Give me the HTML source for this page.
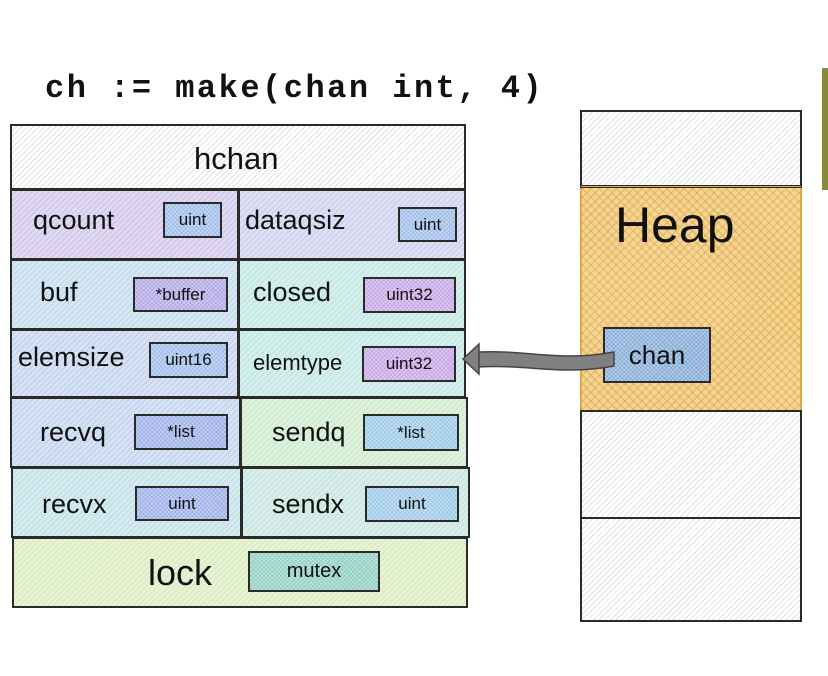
<!DOCTYPE html>
<html><head><meta charset="utf-8"><style>
body{margin:0;width:828px;height:676px;background:#fff;position:relative;overflow:hidden;font-family:"Liberation Sans",sans-serif}
.b{position:absolute;border:2px solid #2a2a2a;box-sizing:border-box}
.h{background-image:repeating-linear-gradient(135deg,rgba(255,255,255,.35) 0 2px,rgba(255,255,255,0) 2px 4px)}
.t{position:absolute;font-size:27px;color:#111;line-height:1}
.k{position:absolute;border:2px solid #2a2a2a;box-sizing:border-box;font-size:17px;text-align:center;color:#111;display:flex;align-items:center;justify-content:center;background-image:repeating-linear-gradient(45deg,rgba(255,255,255,.3) 0 1px,rgba(255,255,255,0) 1px 3px),repeating-linear-gradient(135deg,rgba(255,255,255,.3) 0 1px,rgba(255,255,255,0) 1px 3px)}
.g{background-color:#f2f2f2;background-image:repeating-linear-gradient(135deg,#fff 0 3px,#e0e0e0 3px 4px)}
</style></head><body>
<div style="position:absolute;left:45px;top:70px;font:bold 32px 'Liberation Mono',monospace;letter-spacing:2.5px;color:#111">ch := make(chan int, 4)</div>
<div style="position:absolute;left:822px;top:68px;width:6px;height:122px;background:#8a8a3a"></div>

<div class="b g" style="left:10px;top:124px;width:456px;height:66px"></div>
<div class="t" style="left:194px;top:143px;font-size:31px">hchan</div>

<div class="b h" style="left:10px;top:189px;width:229px;height:71px;background-color:#d3caec"></div>
<div class="b h" style="left:238px;top:189px;width:228px;height:71px;background-color:#d0d3ee"></div>
<div class="t" style="left:33px;top:207px">qcount</div><div class="k" style="left:163px;top:202px;width:59px;height:36px;background-color:#9dbce8">uint</div>
<div class="t" style="left:245px;top:207px">dataqsiz</div><div class="k" style="left:398px;top:207px;width:59px;height:35px;background-color:#9dbce8">uint</div>

<div class="b h" style="left:10px;top:259px;width:229px;height:71px;background-color:#c6ddee"></div>
<div class="b h" style="left:238px;top:259px;width:228px;height:71px;background-color:#c4e8e3"></div>
<div class="t" style="left:40px;top:279px">buf</div><div class="k" style="left:133px;top:277px;width:95px;height:35px;background-color:#b2a6e6">*buffer</div>
<div class="t" style="left:253px;top:279px">closed</div><div class="k" style="left:363px;top:277px;width:93px;height:36px;background-color:#c7a6e4">uint32</div>

<div class="b h" style="left:10px;top:329px;width:229px;height:69px;background-color:#c6d6f0"></div>
<div class="b h" style="left:238px;top:329px;width:228px;height:69px;background-color:#c4e8e3"></div>
<div class="t" style="left:18px;top:344px">elemsize</div><div class="k" style="left:149px;top:342px;width:79px;height:36px;background-color:#9dbce8">uint16</div>
<div class="t" style="left:253px;top:352px;font-size:22px">elemtype</div><div class="k" style="left:362px;top:346px;width:94px;height:36px;background-color:#c7a6e4">uint32</div>

<div class="b h" style="left:10px;top:397px;width:231px;height:71px;background-color:#c6d6f0"></div>
<div class="b h" style="left:240px;top:397px;width:228px;height:71px;background-color:#d0ebcf"></div>
<div class="t" style="left:40px;top:419px">recvq</div><div class="k" style="left:134px;top:414px;width:94px;height:36px;background-color:#9dafe8">*list</div>
<div class="t" style="left:272px;top:419px">sendq</div><div class="k" style="left:363px;top:414px;width:96px;height:37px;background-color:#9cc9e6">*list</div>

<div class="b h" style="left:11px;top:467px;width:231px;height:71px;background-color:#c4e2e8"></div>
<div class="b h" style="left:241px;top:467px;width:229px;height:71px;background-color:#c9e6e1"></div>
<div class="t" style="left:42px;top:491px">recvx</div><div class="k" style="left:135px;top:486px;width:94px;height:35px;background-color:#9dafe8">uint</div>
<div class="t" style="left:272px;top:491px">sendx</div><div class="k" style="left:365px;top:486px;width:94px;height:36px;background-color:#9cc9e6">uint</div>

<div class="b h" style="left:12px;top:537px;width:456px;height:71px;background-color:#dcedc4"></div>
<div class="t" style="left:148px;top:555px;font-size:36px">lock</div><div class="k" style="left:248px;top:551px;width:132px;height:41px;background-color:#93d0c0;font-size:20px">mutex</div>

<div class="b g" style="left:580px;top:110px;width:222px;height:78px"></div>
<div class="b" style="left:580px;top:186px;width:222px;height:226px;background-color:#f1d59a;background-image:repeating-linear-gradient(45deg,rgba(230,170,60,.55) 0 1.5px,rgba(255,255,255,0) 1.5px 6px),repeating-linear-gradient(135deg,rgba(230,170,60,.55) 0 1.5px,rgba(255,255,255,0) 1.5px 6px);border-color:#e0a840"></div>
<div class="b" style="left:580px;top:185px;width:222px;height:3px;border-width:1.5px"></div>
<div class="t" style="left:615px;top:200px;font-size:50px">Heap</div>
<div class="b g" style="left:580px;top:410px;width:222px;height:109px"></div>
<div class="b g" style="left:580px;top:517px;width:222px;height:105px"></div>
<div class="k" style="left:603px;top:327px;width:108px;height:56px;background-color:#86acd8;font-size:26px">chan</div>

<svg style="position:absolute;left:0;top:0" width="828" height="676">
<path d="M478 352 C530 350 560 362 614 352 L614 366 C560 376 530 364 478 367 Z" fill="#808080" stroke="#444" stroke-width="1.5"/>
<path d="M479 344 L463 359 L479 374 Z" fill="#808080" stroke="#444" stroke-width="1.5"/>
</svg>
</body></html>
